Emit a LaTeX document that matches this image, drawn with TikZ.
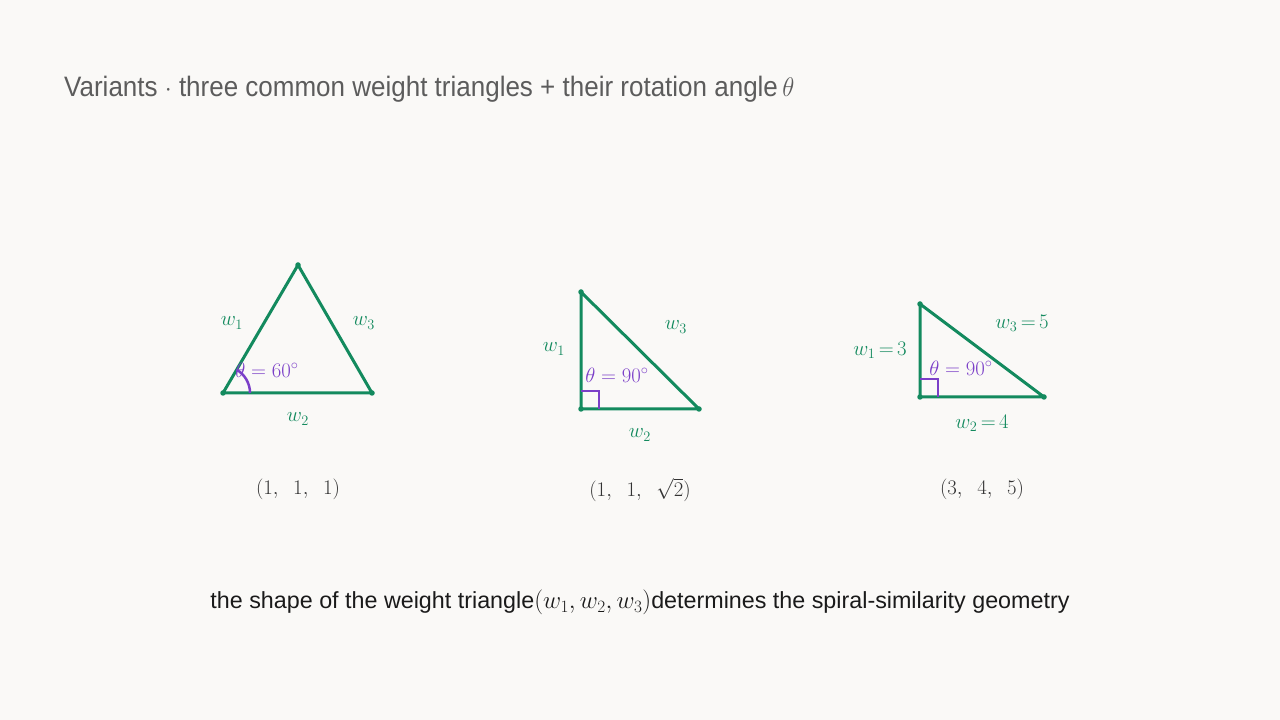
\documentclass[tikz,border=0pt]{standalone}
\usepackage{fontspec}
\setmainfont{Liberation Sans}
\usepackage{amsmath}
\usetikzlibrary{calc}
\definecolor{bg}{HTML}{FAF9F7}
\definecolor{tgreen}{HTML}{138A5E}
\definecolor{tpurple}{HTML}{7B3FC8}
\definecolor{ttitle}{HTML}{5C5C5C}
\definecolor{tcap}{HTML}{333333}
\definecolor{tfoot}{HTML}{1A1A1A}
\begin{document}
\begin{tikzpicture}[x=1pt,y=1pt,
  edge/.style={draw=tgreen,line width=3pt,line join=round},
  vdot/.style={circle,fill=tgreen,inner sep=0pt,minimum size=5.5pt},
  wlab/.style={text=tgreen,font=\fontsize{22}{26}\selectfont,inner sep=0pt},
  thlab/.style={text=tpurple,font=\fontsize{22}{26}\selectfont,inner sep=0pt},
  caplab/.style={text=tcap,font=\fontsize{22.5}{26}\selectfont,inner sep=0pt},
  anglemark/.style={draw=tpurple,line width=2.5pt}]
\fill[bg] (0,0) rectangle (1280,720);
\useasboundingbox (0,0) rectangle (1280,720);
\node[anchor=base west,text=ttitle,font=\fontsize{26}{30}\selectfont,inner sep=0pt,yscale=1.08] (title) at (64,623) {Variants $\cdot$ three common weight triangles + their rotation angle\,$\theta$};
% triangle 1
\coordinate (a1) at (223,327);
\coordinate (b1) at (298,455);
\coordinate (c1) at (372,327);
\draw[edge] (a1) -- (b1) -- (c1) -- cycle;
\draw[anglemark] ($(a1)+(27,0)$) arc[start angle=0,end angle=60,radius=27];
\foreach \p in {a1,b1,c1} \node[vdot] at (\p) {};
\node[wlab] (w11) at (232,397) {$w_1$};
\node[wlab] (w13) at (364,397) {$w_3$};
\node[wlab] (w12) at (298,301) {$w_2$};
\node[thlab] (th1) at (267,350) {$\theta = 60^\circ$};
\node[caplab] (cap1) at (298,231) {$(1,\enspace1,\enspace1)$};
% triangle 2
\coordinate (a2) at (581,311);
\coordinate (b2) at (581,428);
\coordinate (c2) at (699,311);
\draw[edge] (a2) -- (b2) -- (c2) -- cycle;
\draw[anglemark] (581,329) -- (599,329) -- (599,311);
\foreach \p in {a2,b2,c2} \node[vdot] at (\p) {};
\node[wlab] (w21) at (554,371) {$w_1$};
\node[wlab] (w23) at (676,393) {$w_3$};
\node[wlab] (w22) at (640,285) {$w_2$};
\node[thlab] (th2) at (617,345) {$\theta = 90^\circ$};
\node[caplab] (cap2) at (640,230) {$(1,\enspace1,\enspace\sqrt{2})$};
% triangle 3
\coordinate (a3) at (920,323);
\coordinate (b3) at (920,416);
\coordinate (c3) at (1044,323);
\draw[edge] (a3) -- (b3) -- (c3) -- cycle;
\draw[anglemark] (920,341) -- (938,341) -- (938,323);
\foreach \p in {a3,b3,c3} \node[vdot] at (\p) {};
\node[wlab] (w31) at (880,370) {$w_1\,{=}\,3$};
\node[wlab] (w33) at (1022,397) {$w_3\,{=}\,5$};
\node[wlab] (w32) at (982,297) {$w_2\,{=}\,4$};
\node[thlab] (th3) at (961,352) {$\theta = 90^\circ$};
\node[caplab] (cap3) at (982,231) {$(3,\enspace4,\enspace5)$};
% footer
\node[anchor=base,text=tfoot,font=\fontsize{23.3}{27}\selectfont,inner sep=0pt] (foot) at (640,111) {the shape of the weight triangle$(w_1, w_2, w_3)$determines the spiral-similarity geometry};
\end{tikzpicture}
\end{document}
